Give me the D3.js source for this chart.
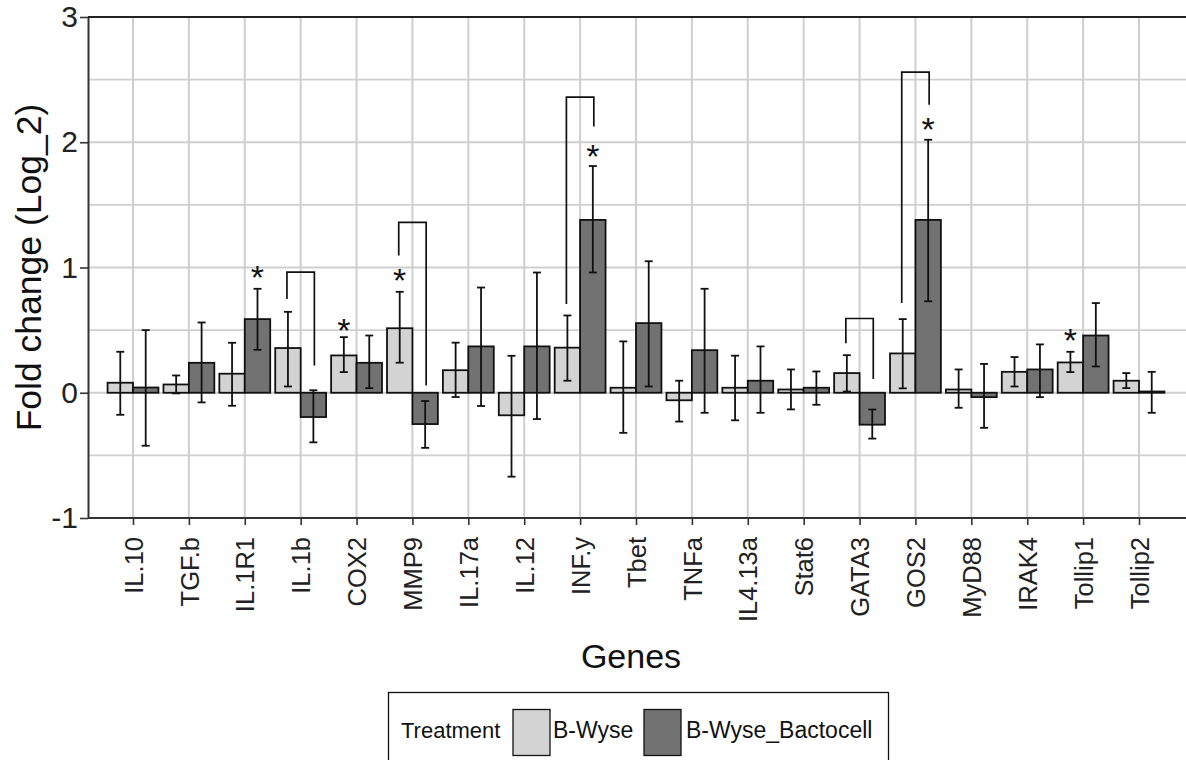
<!DOCTYPE html>
<html>
<head>
<meta charset="utf-8">
<script src="https://cdn.jsdelivr.net/npm/d3@7"></script>
<style>
  body { margin: 0; background: #fff; }
  text { font-family: "Liberation Sans", Arial, sans-serif; }
</style>
</head>
<body>
<div id="chart"></div>
<script>
let genes = ["IL.10", "TGF.b", "IL.1R1", "IL.1b", "COX2", "MMP9", "IL.17a", "IL.12", "INF.y", "Tbet",
             "TNFa", "IL4.13a", "Stat6", "GATA3", "GOS2", "MyD88", "IRAK4", "Tollip1", "Tollip2"];
let seriesNames = ["B-Wyse", "B-Wyse_Bactocell"];
let seriesColors = ["#d3d3d3", "#727272"];

// B-Wyse
let bwyse   = [0.08, 0.066, 0.152, 0.357, 0.298, 0.515, 0.18, -0.18, 0.36, 0.04, -0.06, 0.04, 0.026, 0.157, 0.314, 0.026, 0.167, 0.242, 0.096];
let bwyseLo = [-0.176, -0.005, -0.104, 0.05, 0.165, 0.24, -0.034, -0.67, 0.096, -0.32, -0.23, -0.22, -0.133, 0.01, 0.035, -0.12, 0.05, 0.165, 0.037];
let bwyseHi = [0.327, 0.138, 0.399, 0.646, 0.444, 0.806, 0.40, 0.295, 0.617, 0.41, 0.096, 0.296, 0.186, 0.30, 0.588, 0.186, 0.285, 0.327, 0.157];

// B-Wyse_Bactocell
let bacto   = [0.042, 0.239, 0.588, -0.194, 0.239, -0.25, 0.37, 0.37, 1.38, 0.556, 0.34, 0.096, 0.04, -0.255, 1.38, -0.035, 0.186, 0.457, 0.01];
let bactoLo = [-0.423, -0.077, 0.343, -0.396, 0.037, -0.44, -0.106, -0.21, 0.96, 0.05, -0.16, -0.16, -0.096, -0.366, 0.73, -0.28, -0.035, 0.21, -0.16];
let bactoHi = [0.50, 0.561, 0.83, 0.02, 0.457, -0.066, 0.84, 0.96, 1.81, 1.05, 0.83, 0.37, 0.17, -0.134, 2.02, 0.23, 0.386, 0.716, 0.167];

// comparison brackets: gene, top, end of left leg, end of right leg
let bracketGenes = ["IL.1b", "MMP9", "INF.y", "GATA3", "GOS2"];
let bracketTop   = [0.963, 1.36, 2.36, 0.593, 2.56];
let bracketLeft  = [0.748, 1.096, 0.708, 0.396, 0.716];
let bracketRight = [0.218, 0.058, 2.125, 0.109, 2.30];

// significance stars: gene, series index, centre value
let starGenes  = ["IL.1R1", "COX2", "MMP9", "INF.y", "GOS2", "Tollip1"];
let starSeries = [1, 0, 0, 1, 1, 0];
let starY      = [0.98, 0.556, 0.96, 1.95, 2.165, 0.476];

let yTicks = [-1, 0, 1, 2, 3];
let yGrid = [-1, -0.5, 0, 0.5, 1, 1.5, 2, 2.5, 3];

let margin = {top: 17, right: 2, bottom: 242, left: 88},
    width = 1186 - margin.left - margin.right,
    height = 760 - margin.top - margin.bottom;

let x = d3.scalePoint()
          .domain(genes)
          .range([0, width])
          .padding(0.805);
let y = d3.scaleLinear()
          .domain([-1, 3])
          .range([height, 0]);

let barW = x.step() * 0.455;
let xs = d3.scaleBand().domain([0, 1]).range([-barW, barW]);

let rows = [];
genes.forEach(function(g, i) {
  rows.push({gene: g, s: 0, v: bwyse[i], lo: bwyseLo[i], hi: bwyseHi[i]});
  rows.push({gene: g, s: 1, v: bacto[i], lo: bactoLo[i], hi: bactoHi[i]});
});
function cx(gene, s) { return x(gene) + xs(s) + xs.bandwidth() / 2; }

let svgRoot = d3.select("#chart")
            .append("svg")
            .attr("width", 1186)
            .attr("height", 760);
let svg = svgRoot.append("g")
            .attr("transform", "translate(" + margin.left + "," + margin.top + ")");

// grid
svg.selectAll(".hgrid")
   .data(yGrid)
   .enter().append("line")
   .attr("x1", 0).attr("x2", width + margin.right)
   .attr("y1", d => y(d)).attr("y2", d => y(d))
   .attr("stroke", "#cfcfcf")
   .attr("stroke-width", 1.8);

svg.selectAll(".vgrid")
   .data(genes)
   .enter().append("line")
   .attr("x1", d => x(d)).attr("x2", d => x(d))
   .attr("y1", 0).attr("y2", height)
   .attr("stroke", "#cfcfcf")
   .attr("stroke-width", 2);

// bars
svg.selectAll(".bar")
   .data(rows)
   .enter().append("rect")
   .attr("x", d => x(d.gene) + xs(d.s))
   .attr("width", xs.bandwidth())
   .attr("y", d => y(Math.max(d.v, 0)))
   .attr("height", d => Math.abs(y(d.v) - y(0)))
   .attr("fill", d => seriesColors[d.s])
   .attr("stroke", "#111")
   .attr("stroke-width", 1.8);

// error bars
let eb = svg.selectAll(".err")
   .data(rows)
   .enter().append("g")
   .attr("stroke", "#111")
   .attr("stroke-width", 1.8);
eb.append("line")
  .attr("x1", d => cx(d.gene, d.s)).attr("x2", d => cx(d.gene, d.s))
  .attr("y1", d => y(d.lo)).attr("y2", d => y(d.hi));
eb.append("line")
  .attr("x1", d => cx(d.gene, d.s) - 4).attr("x2", d => cx(d.gene, d.s) + 4)
  .attr("y1", d => y(d.hi)).attr("y2", d => y(d.hi));
eb.append("line")
  .attr("x1", d => cx(d.gene, d.s) - 4).attr("x2", d => cx(d.gene, d.s) + 4)
  .attr("y1", d => y(d.lo)).attr("y2", d => y(d.lo));

// brackets
svg.selectAll(".bracket")
   .data(bracketGenes)
   .enter().append("path")
   .attr("d", function(g, i) {
     let x0 = cx(g, 0) - 1, x1 = cx(g, 1) + 1;
     return "M" + x0 + "," + y(bracketLeft[i]) + "V" + y(bracketTop[i]) +
            "H" + x1 + "V" + y(bracketRight[i]);
   })
   .attr("fill", "none")
   .attr("stroke", "#111")
   .attr("stroke-width", 1.7);

// stars
svg.selectAll(".star")
   .data(starGenes)
   .enter().append("text")
   .attr("x", (g, i) => cx(g, starSeries[i]))
   .attr("y", (g, i) => y(starY[i]) + 19)
   .attr("text-anchor", "middle")
   .attr("font-size", 34)
   .attr("fill", "#111")
   .text("*");

// axes
let yAxis = svg.append("g")
   .call(d3.axisLeft(y).tickValues(yTicks).tickSize(8).tickSizeOuter(0).tickFormat(d => String(d)));
yAxis.select(".domain").attr("stroke", "#333").attr("stroke-width", 2);
yAxis.selectAll(".tick line").attr("stroke", "#333").attr("stroke-width", 1.6);
yAxis.selectAll(".tick text")
     .attr("x", -10)
     .attr("font-size", 30)
     .attr("font-family", "Liberation Sans, Arial, sans-serif")
     .attr("fill", "#222");

let xAxis = svg.append("g")
   .attr("transform", "translate(0," + height + ")")
   .call(d3.axisBottom(x).tickSize(7).tickSizeOuter(0));
xAxis.select(".domain").attr("stroke", "#333").attr("stroke-width", 2)
     .attr("d", "M0,0H" + (width + margin.right));
xAxis.selectAll(".tick line").attr("stroke", "#333").attr("stroke-width", 1.6);
xAxis.selectAll(".tick text")
     .attr("transform", "rotate(-90)")
     .attr("x", -19)
     .attr("y", 0)
     .attr("dy", "0.36em")
     .style("text-anchor", "end")
     .attr("font-size", 25.5)
     .attr("font-family", "Liberation Sans, Arial, sans-serif")
     .attr("fill", "#222");

// top frame line
svg.append("line")
   .attr("x1", 0).attr("x2", width + margin.right)
   .attr("y1", 0).attr("y2", 0)
   .attr("stroke", "#222")
   .attr("stroke-width", 2);

// axis titles
svg.append("text")
   .attr("text-anchor", "middle")
   .attr("x", 543)
   .attr("y", 651)
   .attr("font-size", 34)
   .attr("fill", "#111")
   .text("Genes");

svg.append("text")
   .attr("text-anchor", "middle")
   .attr("transform", "rotate(-90)")
   .attr("x", -height / 2)
   .attr("y", -margin.left + 41)
   .attr("font-size", 35.5)
   .attr("fill", "#111")
   .text("Fold change (Log_2)");

// legend
let legend = svgRoot.append("g");
legend.append("rect")
   .attr("x", 388.5).attr("y", 692.5)
   .attr("width", 500).attr("height", 90)
   .attr("fill", "#fff")
   .attr("stroke", "#111")
   .attr("stroke-width", 1.3);
legend.append("text")
   .attr("x", 401).attr("y", 738)
   .attr("font-size", 22)
   .attr("fill", "#111")
   .text("Treatment");

let keyX = [513, 644];
let labX = [553, 686];
seriesNames.forEach(function(name, i) {
  legend.append("rect")
     .attr("x", keyX[i]).attr("y", 709.5)
     .attr("width", 37).attr("height", 46)
     .attr("fill", seriesColors[i])
     .attr("stroke", "#111")
     .attr("stroke-width", 1.3);
  legend.append("text")
     .attr("x", labX[i]).attr("y", 738)
     .attr("font-size", 23)
     .attr("fill", "#111")
     .text(name);
});
</script>
</body>
</html>
